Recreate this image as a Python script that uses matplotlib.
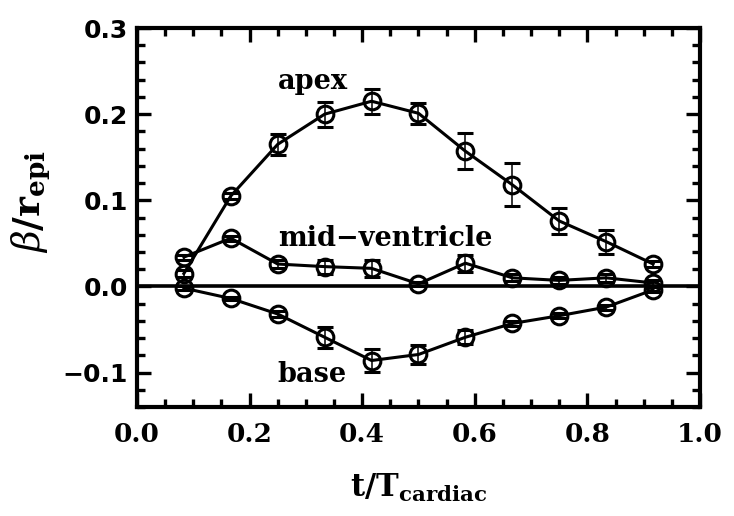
import matplotlib
matplotlib.use('Agg')
import matplotlib.pyplot as plt
from matplotlib.ticker import MultipleLocator

plt.rcParams['mathtext.fontset'] = 'dejavuserif'

# phase of cardiac cycle
t = [1/12, 2/12, 3/12, 4/12, 5/12, 6/12, 7/12, 8/12, 9/12, 10/12, 11/12]

apex = [0.015, 0.105, 0.165, 0.200, 0.215, 0.201, 0.157, 0.118, 0.076, 0.052, 0.026]
apex_err = [0.004, 0.003, 0.012, 0.0145, 0.0145, 0.012, 0.021, 0.025, 0.015, 0.014, 0.004]

mid = [0.034, 0.056, 0.026, 0.023, 0.021, 0.003, 0.027, 0.010, 0.007, 0.010, 0.004]
mid_err = [0.003, 0.003, 0.005, 0.008, 0.010, 0.002, 0.010, 0.004, 0.004, 0.005, 0.003]

base = [-0.002, -0.014, -0.032, -0.059, -0.086, -0.079, -0.059, -0.043, -0.034, -0.024, -0.004]
base_err = [0.002, 0.002, 0.004, 0.012, 0.013, 0.011, 0.008, 0.003, 0.003, 0.003, 0.003]

fig = plt.figure(figsize = (7.34, 5.16), dpi = 100)
ax = fig.add_axes([0.1866, 0.2112, 0.7671, 0.7345])

for y, err in [(apex, apex_err), (mid, mid_err), (base, base_err)]:
    ax.errorbar(t, y, yerr = err, color = 'black', lw = 2.2,
                marker = 'o', ms = 12, mfc = 'none', mec = 'black', mew = 2.2,
                elinewidth = 1.1, capsize = 6, capthick = 1.1, zorder = 3)

ax.axhline(0, color = 'black', lw = 2.6, zorder = 2)

ax.set_xlim(0, 1)
ax.set_ylim(-0.14, 0.3)
ax.xaxis.set_minor_locator(MultipleLocator(0.05))
ax.yaxis.set_minor_locator(MultipleLocator(0.02))

ax.tick_params(which = 'both', direction = 'in', top = True, right = True, width = 2.4)
ax.tick_params(which = 'major', length = 10)
ax.tick_params(which = 'minor', length = 5.5)
for s in ax.spines.values():
    s.set_linewidth(3.0)

ax.set_xticks([0, 0.2, 0.4, 0.6, 0.8, 1.0])
ax.set_xticklabels(['0.0', '0.2', '0.4', '0.6', '0.8', '1.0'],
                   fontfamily = 'DejaVu Serif', fontweight = 'bold', fontsize = 19)
ax.set_yticks([-0.1, 0.0, 0.1, 0.2, 0.3])
ax.set_yticklabels(['\u22120.1', '0.0', '0.1', '0.2', '0.3'],
                   fontfamily = 'DejaVu Sans', fontweight = 'bold', fontsize = 18)
ax.tick_params(axis = 'x', pad = 11)
ax.tick_params(axis = 'y', pad = 6.5)

ax.set_xlabel(r'$\mathbf{t/T_{cardiac}}$', fontsize = 22, labelpad = 18)
ax.set_ylabel(r'$\beta\mathbf{/r_{epi}}$', fontsize = 27)
ax.yaxis.set_label_coords(-0.15, 0.543)

lab = dict(fontfamily = 'DejaVu Serif', fontweight = 'bold', fontsize = 19.5)
ax.text(0.25, 0.229, 'apex', ha = 'left', va = 'baseline', **lab)
ax.text(0.25, 0.047, 'mid\u2212ventricle', ha = 'left', va = 'baseline', **lab)
ax.text(0.25, -0.111, 'base', ha = 'left', va = 'baseline', **lab)

fig.savefig('out.png', dpi = 100)
